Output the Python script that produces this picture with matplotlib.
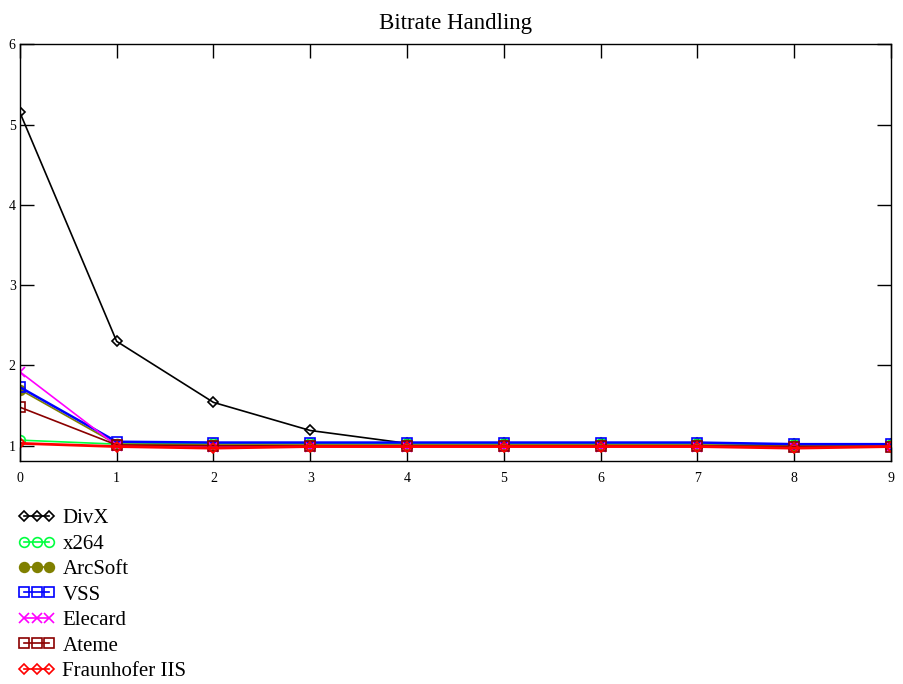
import matplotlib.pyplot as plt

plt.rcParams['font.family'] = ['Liberation Serif', 'DejaVu Serif']

x = list(range(10))

divx = [5.15, 2.30, 1.54, 1.19, 1.03, 1.03, 1.03, 1.03, 1.02, 1.02]
x264 = [1.07, 1.02, 1.03, 1.03, 1.03, 1.03, 1.03, 1.03, 1.02, 1.02]
arcsoft = [1.70, 1.02, 1.01, 1.01, 1.01, 1.01, 1.01, 1.01, 1.00, 1.00]
vss = [1.73, 1.05, 1.04, 1.04, 1.04, 1.04, 1.04, 1.04, 1.02, 1.02]
elecard = [1.92, 1.00, 0.99, 0.99, 0.99, 0.99, 0.99, 0.99, 0.98, 0.99]
ateme = [1.48, 1.01, 1.00, 1.00, 1.00, 1.00, 1.00, 1.00, 0.99, 0.99]
fraunhofer = [1.03, 0.99, 0.97, 0.99, 0.99, 0.99, 0.99, 0.99, 0.97, 0.99]

series = [
    ('DivX', divx, 'black', 'D', 'none', 1.2),
    ('x264', x264, '#00ff40', 'o', 'none', 1.2),
    ('ArcSoft', arcsoft, '#808000', 'o', '#808000', 1.2),
    ('VSS', vss, 'blue', 's', 'none', 1.8),
    ('Elecard', elecard, 'magenta', 'x', 'none', 1.2),
    ('Ateme', ateme, '#8b0000', 's', 'none', 1.2),
    ('Fraunhofer IIS', fraunhofer, 'red', 'D', 'none', 2.0),
]

fig = plt.figure(figsize=(9.04, 6.84), dpi=100)
ax = fig.add_axes([0.022, 0.326, 0.9636, 0.6094])

for name, vals, col, mk, fc, lw in series:
    ax.plot(x, vals, color=col, marker=mk, markerfacecolor=fc, markeredgecolor=col,
            markersize=5 if mk == 'D' else 7, markeredgewidth=1.2, linewidth=lw, label=name)

ax.set_xlim(0, 9)
ax.set_ylim(0.81, 6)
ax.set_xticks(x)
ax.set_yticks([1, 2, 3, 4, 5, 6])
ax.tick_params(direction='in', length=10, labelsize=10, top=True, right=True,
               width=1, pad=8)
ax.tick_params(axis='y', pad=3)
for s in ax.spines.values():
    s.set_linewidth(1)
ax.set_title('Bitrate Handling', fontsize=16.5, pad=11)

leg = fig.legend(loc='upper left', bbox_to_anchor=(0.02, 0.256), numpoints=3, frameon=False,
                 fontsize=15, handlelength=1.8, handletextpad=0.33, labelspacing=0.28,
                 borderaxespad=0, borderpad=0, markerscale=1.0)
for h in leg.legend_handles:
    h.set_linewidth(1.2)

fig.savefig('out.png', dpi=100)
